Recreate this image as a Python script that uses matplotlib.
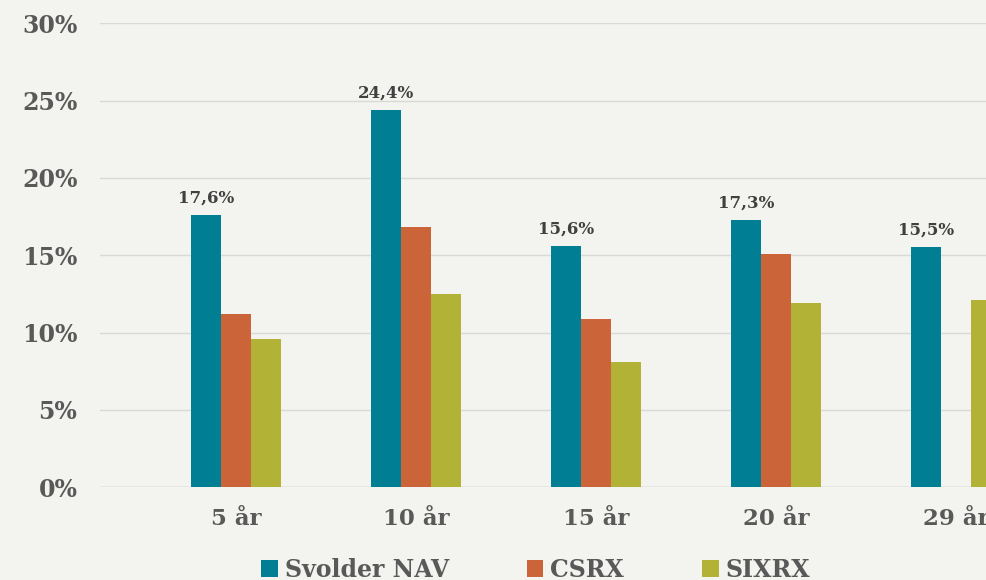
import numpy as np
import matplotlib.pyplot as plt

# horizon categories and annual returns (%)
periods = ["5 år", "10 år", "15 år", "20 år", "29 år"]
svolder = [17.6, 24.4, 15.6, 17.3, 15.5]
csrx = [11.2, 16.8, 10.9, 15.1, np.nan]
sixrx = [9.6, 12.5, 8.1, 11.9, 12.1]
series_names = ["Svolder NAV", "CSRX", "SIXRX"]
colors = ["#007F94", "#CC643A", "#B2B237"]

bg = "#F3F3EF"
txt = "#595959"

plt.rcParams['font.family'] = ['DejaVu Serif']
plt.rcParams['font.weight'] = 'bold'

fig = plt.figure(figsize=(9.87, 5.8), dpi=100, facecolor=bg)
ax = fig.add_axes([0.101, 0.160, 0.899, 0.800], facecolor=bg)

x = np.arange(len(periods))
w = 0.167
for i, (vals, name, c) in enumerate(zip([svolder, csrx, sixrx], series_names, colors)):
    ax.bar(x + (i - 1) * w, vals, width=w, color=c, label=name, zorder=3)

# labels on the Svolder bars
for xi, v in zip(x, svolder):
    ax.text(xi - w, v + 0.55, f"{v:.1f}%".replace(".", ","), ha="center", va="bottom",
            fontsize=12, color="#404040", fontweight="bold")

ax.set_ylim(0, 30)
ax.set_xlim(-0.756, 4.172)
ax.set_yticks(np.arange(0, 31, 5))
ax.set_yticklabels([f"{t}%" for t in range(0, 31, 5)])
ax.set_xticks(x)
ax.set_xticklabels(periods)
ax.yaxis.grid(True, color="#D9D9D9", linewidth=1, zorder=0)
ax.tick_params(axis="y", length=0, pad=16, labelsize=17, labelcolor=txt)
ax.tick_params(axis="x", length=0, pad=15, labelsize=16.5, labelcolor=txt)
for s in ax.spines.values():
    s.set_visible(False)
ax.axhline(0, color="#D0D0D0", linewidth=1, zorder=2)

fig.legend(loc="center", bbox_to_anchor=(0.543, 0.018), ncol=3, frameon=False,
           fontsize=17, handlelength=0.7, handleheight=0.7, handletextpad=0.3,
           columnspacing=3.3, labelcolor=txt)

fig.savefig("out.png", dpi=100, facecolor=bg)
